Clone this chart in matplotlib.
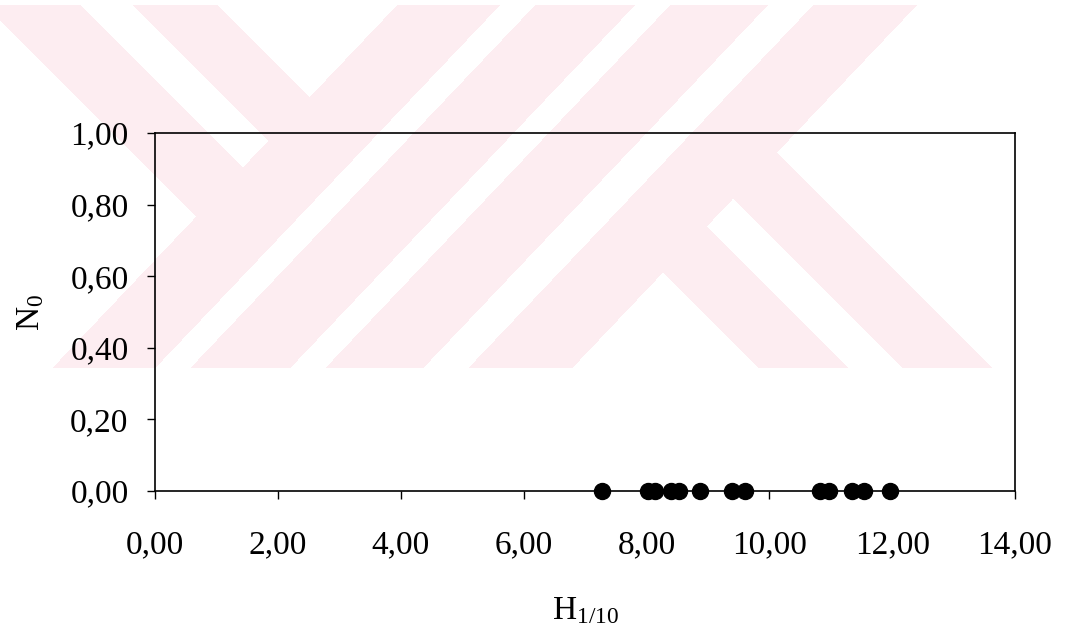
import numpy as np
import matplotlib
matplotlib.use('Agg')
import matplotlib.pyplot as plt

# measured H1/10 values, all with N0 = 0
h_values = [7.28, 8.03, 8.14, 8.40, 8.53, 8.87, 9.39, 9.61, 10.82, 10.97, 11.34, 11.54, 11.96]
n_values = [0.0] * len(h_values)

x_ticks = [0, 2, 4, 6, 8, 10, 12, 14]
y_ticks = [0.0, 0.2, 0.4, 0.6, 0.8, 1.0]
x_tick_labels = ['0,00', '2,00', '4,00', '6,00', '8,00', '10,00', '12,00', '14,00']
y_tick_labels = ['0,00', '0,20', '0,40', '0,60', '0,80', '1,00']

plt.rcParams['font.family'] = ['Liberation Serif', 'DejaVu Serif']
plt.rcParams['mathtext.fontset'] = 'custom'
plt.rcParams['mathtext.rm'] = 'Liberation Serif'
plt.rcParams['mathtext.it'] = 'Liberation Serif:italic'

W, H = 1065, 633
fig = plt.figure(figsize=(W / 100, H / 100), dpi=100)

# pale watermark behind the chart (pixel space)
bg = fig.add_axes([0, 0, 1, 1], zorder=0)
yy, xx = np.mgrid[0:H, 0:W] + 0.5
u = xx + 0.95 * yy
v = xx - yy
rows = (yy >= 5) & (yy <= 368)
slash = ((u >= 402) & (u <= 505)) | ((u >= 540) & (u <= 640)) | \
        ((u >= 675) & (u <= 773)) | ((u >= 818) & (u <= 922))
left = (u < 402) & (((v >= -20) & (v <= 75)) | ((v >= 128) & (v <= 212)))
right = (u > 922) & (((v >= 391) & (v <= 480)) | ((v >= 535) & (v <= 624)))
mask = rows & (slash | left | right)
img = np.ones((H, W, 3))
img[mask] = np.array([253, 237, 241]) / 255.0
bg.imshow(img, extent=[0, W, H, 0], aspect='auto', interpolation='nearest')
bg.axis('off')

ax = fig.add_axes([155 / W, 1 - 491 / H, 860 / W, 358 / H], zorder=1)
ax.set_facecolor('none')

ax.plot(h_values, n_values, 'o', color='black', markersize=11.5, clip_on=False, zorder=3)

ax.set_xlim(0, 14)
ax.set_ylim(0, 1)
ax.set_xticks(x_ticks)
ax.set_xticklabels(x_tick_labels)
ax.set_yticks(y_ticks)
ax.set_yticklabels(y_tick_labels)

for s in ax.spines.values():
    s.set_linewidth(1.2)
    s.set_color('black')

ax.tick_params(axis='both', direction='out', length=6, width=1, labelsize=24, colors='black')
ax.tick_params(axis='y', pad=13)
ax.tick_params(axis='x', pad=22)

ax.set_xlabel(r'H$_{\mathrm{1/10}}$', fontsize=24, labelpad=25)
ax.set_ylabel(r'N$_{\mathrm{0}}$', fontsize=24, labelpad=17)

plt.savefig('out.png', dpi=100)
